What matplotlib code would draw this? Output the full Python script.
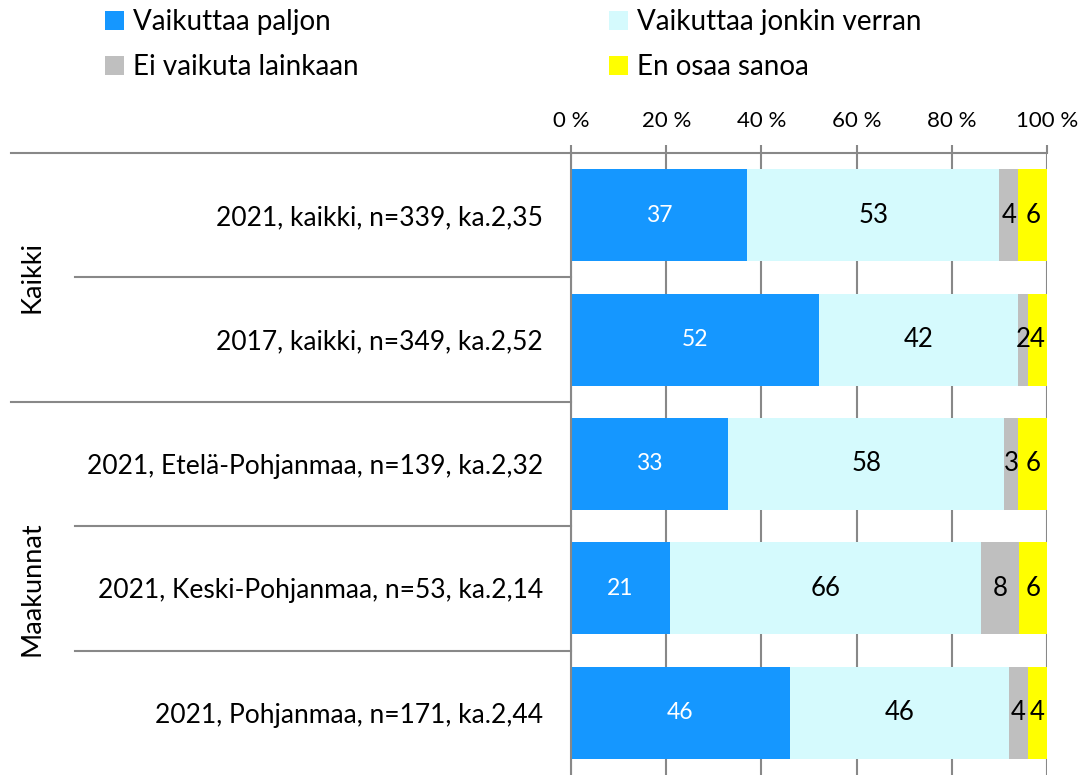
import numpy as np
import matplotlib.pyplot as plt
from matplotlib.transforms import blended_transform_factory

plt.rcParams['font.family'] = ['Lato', 'DejaVu Sans']

# data (percent shares, as labelled in the chart)
categories = ["2021, kaikki, n=339, ka.2,35",
              "2017, kaikki, n=349, ka.2,52",
              "2021, Etelä-Pohjanmaa, n=139, ka.2,32",
              "2021, Keski-Pohjanmaa, n=53, ka.2,14",
              "2021, Pohjanmaa, n=171, ka.2,44"]
series_names = ["Vaikuttaa paljon", "Vaikuttaa jonkin verran",
                "Ei vaikuta lainkaan", "En osaa sanoa"]
paljon = [37, 52, 33, 21, 46]
jonkin = [53, 42, 58, 66, 46]
ei_vaikuta = [4, 2, 3, 8, 4]
en_osaa = [6, 4, 6, 6, 4]
groups = ["Kaikki", "Maakunnat"]
group_sizes = [2, 3]
xticks = [0, 20, 40, 60, 80, 100]

colors = ["#1597FF", "#D5FAFD", "#BFBFBF", "#FFFF00"]
label_colors = ["white", "black", "black", "black"]
line_col = "#888888"

W, H = 1081, 775
fig = plt.figure(figsize=(W / 100, H / 100), dpi=100)
ax = fig.add_axes([571 / W, 0, 476 / W, 622 / H])

vals = np.array([paljon, jonkin, ei_vaikuta, en_osaa], dtype=float)
pct = vals / vals.sum(axis=0) * 100
y = np.arange(len(categories))

left = np.zeros(len(categories))
handles = []
for i in range(4):
    bars = ax.barh(y, pct[i], left=left, height=0.74, color=colors[i],
                   zorder=2, label=series_names[i])
    handles.append(bars)
    for j in range(len(categories)):
        fs = 16.5 if i == 0 else 18.5
        ax.text(left[j] + pct[i][j] / 2, y[j], f"{vals[i][j]:.0f}",
                ha="center", va="center", color=label_colors[i],
                fontsize=fs, zorder=3)
    left += pct[i]

ax.set_xlim(0, 100)
ax.set_ylim(len(categories) - 0.5, -0.5)
ax.xaxis.tick_top()
ax.set_xticks(xticks)
ax.set_xticklabels([f"{t} %" for t in xticks], fontsize=16)
ax.tick_params(axis="x", length=6, width=1.5, color=line_col, pad=10)
ax.grid(axis="x", color=line_col, linewidth=1.5, zorder=0)
ax.set_yticks(y)
ax.set_yticklabels(categories, fontsize=19)
ax.tick_params(axis="y", length=0, pad=20)
for s in ["bottom", "right"]:
    ax.spines[s].set_visible(False)
for s in ["top", "left"]:
    ax.spines[s].set_color(line_col)
    ax.spines[s].set_linewidth(1.5)

# category separators and group labels
tr = blended_transform_factory(ax.transAxes, ax.transData)
outer_x = (11 - 571) / 476
inner_x = (75 - 571) / 476
group_x = (32 - 571) / 476
start = -0.5
for g, n in zip(groups, group_sizes):
    ax.plot([outer_x, 0], [start, start], transform=tr, color=line_col,
            lw=1.5, clip_on=False)
    for k in range(1, n):
        ax.plot([inner_x, 0], [start + k, start + k], transform=tr,
                color=line_col, lw=1.5, clip_on=False)
    ax.text(group_x, start + n / 2, g, transform=tr, rotation=90,
            ha="center", va="center", fontsize=19.5)
    start += n

# legend in two columns, placed separately
leg_kw = dict(loc="upper left", frameon=False, fontsize=20,
              handlelength=0.68, handleheight=0.68, handletextpad=0.32,
              labelspacing=0.7, borderpad=0, borderaxespad=0)
for cols, x0 in [([0, 2], 105), ([1, 3], 609)]:
    fig.legend([handles[i] for i in cols], [series_names[i] for i in cols],
               bbox_to_anchor=(x0 / W, 1 - 9 / H), **leg_kw)

fig.savefig("out.png", dpi=100)
